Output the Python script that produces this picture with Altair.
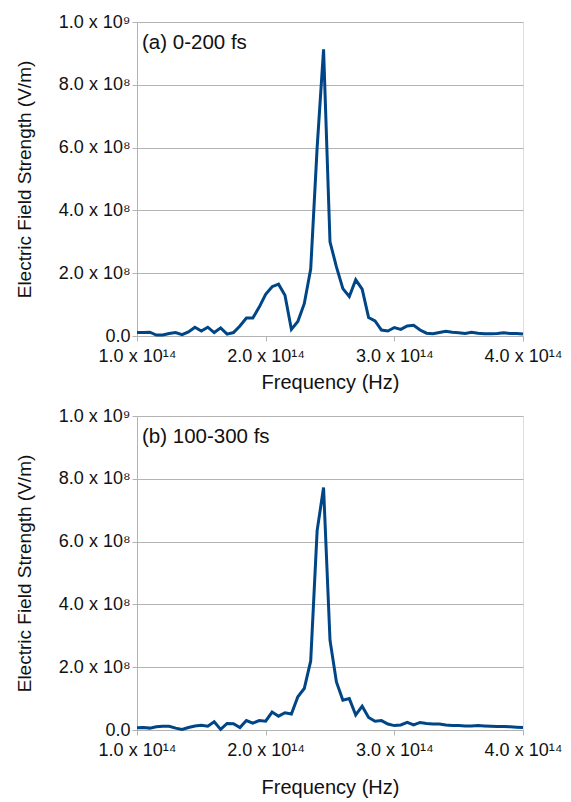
import altair as alt
import pandas as pd

# Frequency in units of 1e14 Hz
freq = [1.00, 1.05, 1.10, 1.15, 1.20, 1.25, 1.30, 1.35, 1.40, 1.45,
        1.50, 1.55, 1.60, 1.65, 1.70, 1.75, 1.80, 1.85, 1.90, 1.95,
        2.00, 2.05, 2.10, 2.15, 2.20, 2.25, 2.30, 2.35, 2.40, 2.45,
        2.50, 2.55, 2.60, 2.65, 2.70, 2.75, 2.80, 2.85, 2.90, 2.95,
        3.00, 3.05, 3.10, 3.15, 3.20, 3.25, 3.30, 3.35, 3.40, 3.45,
        3.50, 3.55, 3.60, 3.65, 3.70, 3.75, 3.80, 3.85, 3.90, 3.95,
        4.00]

# Electric field strength in units of 1e8 V/m
field_a = [0.11, 0.11, 0.12, 0.03, 0.03, 0.08, 0.11, 0.04, 0.13, 0.28,
           0.16, 0.28, 0.11, 0.26, 0.06, 0.11, 0.32, 0.57, 0.57, 0.92,
           1.33, 1.57, 1.65, 1.30, 0.21, 0.46, 1.03, 2.13, 6.00, 9.13,
           3.00, 2.20, 1.51, 1.26, 1.79, 1.49, 0.59, 0.48, 0.19, 0.16,
           0.27, 0.21, 0.32, 0.34, 0.19, 0.09, 0.07, 0.11, 0.15, 0.12,
           0.10, 0.08, 0.12, 0.09, 0.07, 0.07, 0.08, 0.10, 0.08, 0.08,
           0.06]

field_b = [0.07, 0.08, 0.06, 0.10, 0.12, 0.12, 0.06, 0.02, 0.08, 0.13,
           0.15, 0.12, 0.26, 0.02, 0.21, 0.20, 0.08, 0.30, 0.22, 0.30,
           0.28, 0.57, 0.44, 0.55, 0.51, 1.06, 1.32, 2.20, 6.35, 7.72,
           2.86, 1.53, 0.95, 1.00, 0.48, 0.76, 0.40, 0.28, 0.30, 0.19,
           0.14, 0.16, 0.24, 0.16, 0.24, 0.21, 0.19, 0.19, 0.16, 0.14,
           0.14, 0.13, 0.13, 0.14, 0.13, 0.12, 0.11, 0.11, 0.10, 0.09,
           0.08]

x_ticks = [1, 2, 3, 4]
x_labels = ["1.0 x 10\u00b9\u2074", "2.0 x 10\u00b9\u2074", "3.0 x 10\u00b9\u2074", "4.0 x 10\u00b9\u2074"]
y_ticks = [0, 2, 4, 6, 8, 10]
y_labels = ["0.0", "2.0 x 10\u2078", "4.0 x 10\u2078", "6.0 x 10\u2078", "8.0 x 10\u2078", "1.0 x 10\u2079"]

panel_labels = ["(a) 0-200 fs", "(b) 100-300 fs"]

FONT = "Liberation Sans"
LINE = "#004586"
GRAY = "#b3b3b3"
TXT = "#111111"


def label_expr(vals, labs):
    parts = [f"datum.value == {v} ? '{l}'" for v, l in zip(vals, labs)]
    return " : ".join(parts) + " : ''"


def panel(vals, label, xtitle_pad):
    df = pd.DataFrame({"f": freq, "E": vals})
    line = alt.Chart(df).mark_line(color=LINE, strokeWidth=3).encode(
        x=alt.X("f:Q",
                scale=alt.Scale(domain=[1, 4], nice=False, zero=False),
                axis=alt.Axis(values=x_ticks, labelExpr=label_expr(x_ticks, x_labels),
                              title="Frequency (Hz)", grid=False,
                              domainColor=GRAY, tickColor=GRAY, tickSize=5,
                              labelFont=FONT, labelFontSize=18, labelColor=TXT,
                              labelPadding=6, labelFlush=False,
                              titleFont=FONT, titleFontSize=20, titleFontWeight="normal",
                              titleColor=TXT, titlePadding=xtitle_pad)),
        y=alt.Y("E:Q",
                scale=alt.Scale(domain=[0, 10], nice=False),
                axis=alt.Axis(values=y_ticks, labelExpr=label_expr(y_ticks, y_labels),
                              title="Electric Field Strength (V/m)", grid=True,
                              gridColor=GRAY, gridWidth=1,
                              domainColor=GRAY, tickColor=GRAY, tickSize=5,
                              labelFont=FONT, labelFontSize=18, labelColor=TXT,
                              labelPadding=2, labelFlush=False,
                              titleFont=FONT, titleFontSize=19, titleFontWeight="normal",
                              titleColor=TXT, titlePadding=24)),
    )
    text = alt.Chart(pd.DataFrame({"t": [label]})).mark_text(
        align="left", baseline="middle", font=FONT, fontSize=20.5, color=TXT
    ).encode(text="t:N", x=alt.value(5), y=alt.value(21))
    return alt.layer(line, text).properties(width=386, height=314)


top = panel(field_a, panel_labels[0], 7)
bottom = panel(field_b, panel_labels[1], 18)

chart = alt.vconcat(top, bottom, spacing=13).properties(
    padding={"left": 14, "top": 12, "right": 5, "bottom": 0}
).configure_view(stroke=GRAY, strokeWidth=1).configure(background="white")

chart.save("out.html", embed_options={"renderer": "svg", "actions": False})
